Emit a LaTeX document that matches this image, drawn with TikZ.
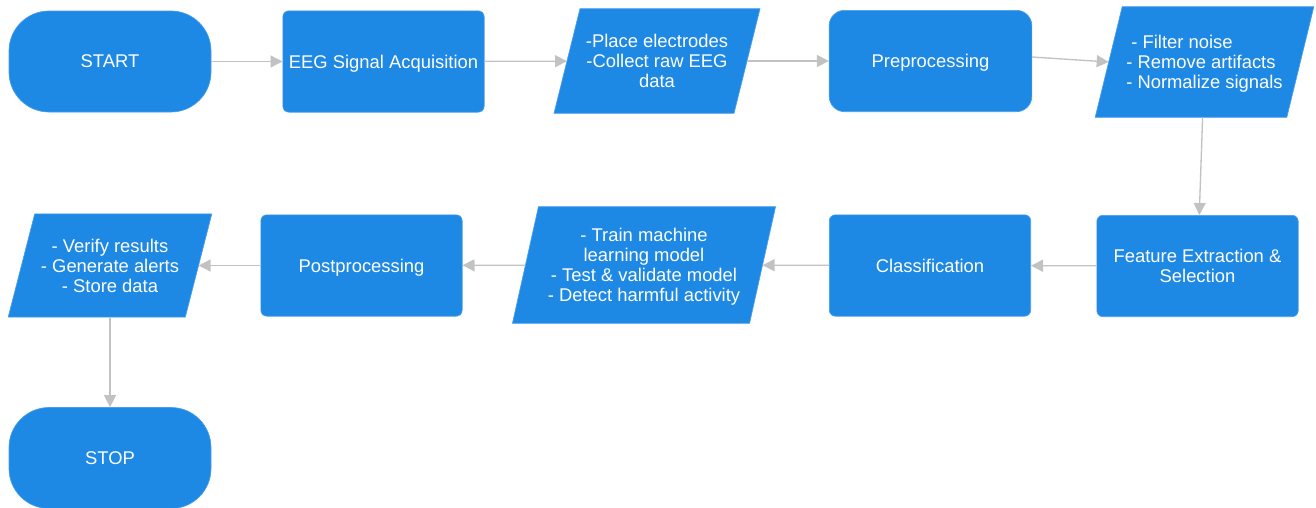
\documentclass[tikz,border=0pt]{standalone}
\usepackage{fontspec}
\setmainfont{Liberation Sans}
\usetikzlibrary{arrows.meta,backgrounds}
\definecolor{flowblue}{HTML}{1E88E5}
\definecolor{flowedge}{HTML}{4A9FEA}
\definecolor{linkgray}{HTML}{C2C2C2}

\tikzset{
  label text/.style={text=white, font=\fontsize{13.8pt}{15pt}\selectfont,
    align=center, inner sep=2pt, text depth=0pt},
  base/.style={label text, fill=flowblue, draw=flowedge, line width=0.5pt},
  terminal/.style={base, rectangle, rounded corners=30pt,
    minimum width=151.5pt, minimum height=75.75pt},
  process/.style={base, rectangle, rounded corners=4.5pt,
    minimum width=151pt, minimum height=76pt},
  % text frame of an input/output box; the slanted outline is drawn behind it
  iobox/.style={label text, rectangle},
  iofill/.style={fill=flowblue, draw=flowedge, line width=0.5pt},
  link/.style={draw=linkgray, line width=1pt, -{Triangle[length=9pt,width=9pt]}},
}

% slanted outline around node #1, edges leaning by #2 (in px) at top and bottom
\newcommand\slantbox[2]{%
  \path[iofill] ([xshift=#2*0.75pt]#1.north west) -- ([xshift=#2*0.75pt]#1.north east)
    -- ([xshift=-#2*0.75pt]#1.south east) -- ([xshift=-#2*0.75pt]#1.south west) -- cycle;}

\begin{document}
\begin{tikzpicture}[x=0.75pt,y=-0.75pt]
\useasboundingbox (0,0) rectangle (1316,507);

% top row
\node[terminal] (start) at (110,61.5) {START};
\node[process] (acq) at (383.5,61.5) {EEG Signal Acquisition};
\node[iobox, minimum width=134.6pt, minimum height=78pt] (place) at (657,61)
  {-Place electrodes\\-Collect raw EEG\\data};
\node[process, rounded corners=11.5pt, minimum width=152pt] (prep) at (930.5,61) {Preprocessing};
\node[iobox, minimum width=143.3pt, minimum height=82.5pt, align=left] (clean) at (1204.5,62)
  {\hspace*{0.278em}- Filter noise\\- Remove artifacts\\- Normalize signals};

% second row, right to left
\node[process] (feat) at (1197.5,266) {Feature Extraction \&\\Selection};
\node[process] (class) at (930,265.5) {Classification};
\node[iobox, minimum width=177.4pt, minimum height=87pt] (model) at (644,265)
  {- Train machine\\learning model\\- Test \& validate model\\- Detect harmful activity};
\node[process] (post) at (361.5,265.5) {Postprocessing};
\node[iobox, minimum width=132.4pt, minimum height=77pt] (out) at (110,265.5)
  {- Verify results\\- Generate alerts\\- Store data};

% end
\node[terminal] (stop) at (110,458) {STOP};

% slanted input/output outlines
\begin{scope}[on background layer]
  \slantbox{place}{13}
  \slantbox{clean}{13.5}
  \slantbox{model}{13}
  \slantbox{out}{13.25}
\end{scope}

% connectors
\draw[link] (start) -- (acq);
\draw[link] (acq) -- (place);
\draw[link] (place) -- (prep);
\draw[link] ([yshift=3pt]prep.east) -- (clean.west);
\draw[link] (clean) -- (feat);
\draw[link] (feat) -- (class);
\draw[link] (class) -- (model);
\draw[link] (model) -- (post);
\draw[link] (post) -- (out);
\draw[link] (out) -- (stop);
\end{tikzpicture}
\end{document}
